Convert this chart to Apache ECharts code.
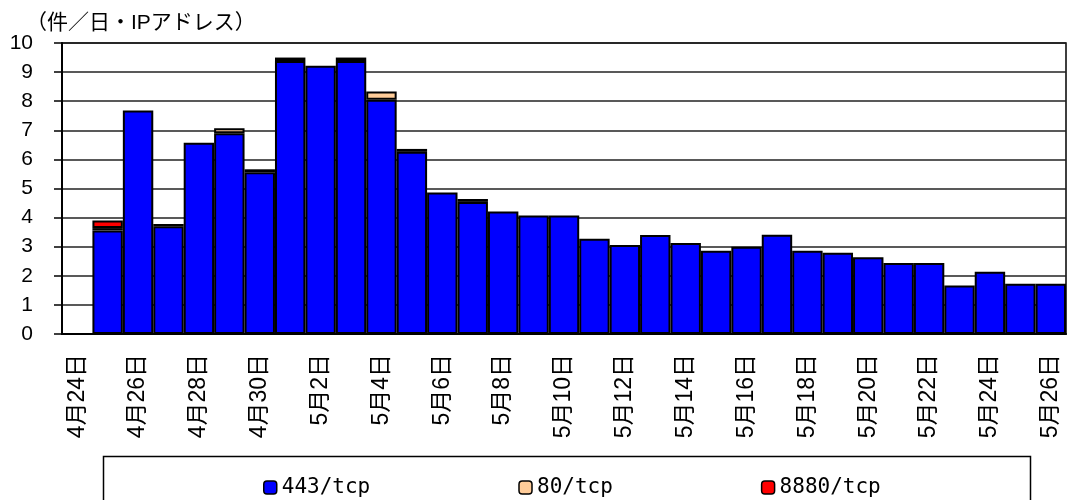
<!DOCTYPE html>
<html>
<head>
<meta charset="utf-8">
<script src="https://cdn.jsdelivr.net/npm/echarts@6/dist/echarts.min.js"></script>
<style>html,body{margin:0;padding:0;background:#fff}#c{width:1068px;height:500px}</style>
</head>
<body>
<div id="c"></div>
<script>
const categories = ['4月24日','4月25日','4月26日','4月27日','4月28日','4月29日','4月30日',
  '5月1日','5月2日','5月3日','5月4日','5月5日','5月6日','5月7日','5月8日','5月9日','5月10日',
  '5月11日','5月12日','5月13日','5月14日','5月15日','5月16日','5月17日','5月18日','5月19日','5月20日',
  '5月21日','5月22日','5月23日','5月24日','5月25日','5月26日'];
const seriesNames = ['443/tcp', '80/tcp', '8880/tcp'];
const values443 = [null, 3.56, 7.68, 3.70, 6.57, 6.90, 5.56, 9.38, 9.22, 9.38, 8.05, 6.26, 4.86, 4.54, 4.21, 4.07, 4.07,
  3.27, 3.06, 3.40, 3.13, 2.86, 3.00, 3.41, 2.86, 2.79, 2.64, 2.44, 2.44, 1.67, 2.14, 1.73, 1.73];
const values80 = [null, 0.08, null, 0.08, null, 0.17, 0.10, 0.12, null, 0.12, 0.28, 0.10, null, 0.10, null, null, null,
  null, null, null, null, null, null, null, null, null, null, null, null, null, null, null, null];
const values8880 = [null, 0.26, null, null, null, null, null, null, null, null, null, null, null, null, null, null, null,
  null, null, null, null, null, null, null, null, null, null, null, null, null, null, null, null];
const yTicks = { min: 0, max: 10, interval: 1 };
const unitLabel = '（件／日・IPアドレス）';

const colors = ['#0000FF', '#FFCC99', '#FF0000'];
const font = "'Liberation Sans', 'Noto Sans CJK JP', sans-serif";
const chart = echarts.init(document.getElementById('c'), null, { renderer: 'canvas' });
const mk = (name, data, color) => ({
  name, type: 'bar', stack: 'total', data,
  barCategoryGap: '0%',
  itemStyle: { color, borderColor: '#000', borderWidth: 2 },
  emphasis: { disabled: true }
});
chart.setOption({
  animation: false,
  backgroundColor: '#fff',
  textStyle: { fontFamily: font, color: '#000' },
  title: {
    text: unitLabel, left: 26, top: 13, padding: 0,
    textStyle: { fontSize: 21, fontWeight: 'normal', color: '#000', fontFamily: font }
  },
  grid: { left: 62, right: 2, top: 43, bottom: 166, show: true, borderColor: '#000', borderWidth: 1.5 },
  legend: {
    data: seriesNames, left: 258, top: 472, itemWidth: 13, itemHeight: 13, itemGap: 148,
    textStyle: { fontSize: 21, color: '#000', fontFamily: "'DejaVu Sans Mono', 'Noto Sans CJK JP', monospace" },
    itemStyle: { borderColor: '#000', borderWidth: 1.5 }
  },
  graphic: [{
    type: 'rect', shape: { x: 103.5, y: 456.5, width: 927, height: 60 },
    style: { fill: 'none', stroke: '#000', lineWidth: 1.5 }, silent: true, z: -1
  }],
  xAxis: {
    type: 'category', data: categories,
    axisLine: { lineStyle: { color: '#000', width: 2 } },
    axisTick: { interval: 1, length: 6, lineStyle: { color: '#000', width: 1.5 } },
    axisLabel: { interval: 1, rotate: 90, margin: 20, fontSize: 23, color: '#000', fontFamily: font }
  },
  yAxis: {
    type: 'value', min: yTicks.min, max: yTicks.max, interval: yTicks.interval,
    axisLine: { show: true, lineStyle: { color: '#000', width: 2 } },
    axisTick: { show: true, length: 8, lineStyle: { color: '#000', width: 1.5 } },
    axisLabel: { margin: 29, fontSize: 21, color: '#000', fontFamily: font },
    splitLine: { lineStyle: { color: '#222', width: 1.5 } }
  },
  series: [
    mk(seriesNames[0], values443, colors[0]),
    mk(seriesNames[1], values80, colors[1]),
    mk(seriesNames[2], values8880, colors[2])
  ]
});
</script>
</body>
</html>
